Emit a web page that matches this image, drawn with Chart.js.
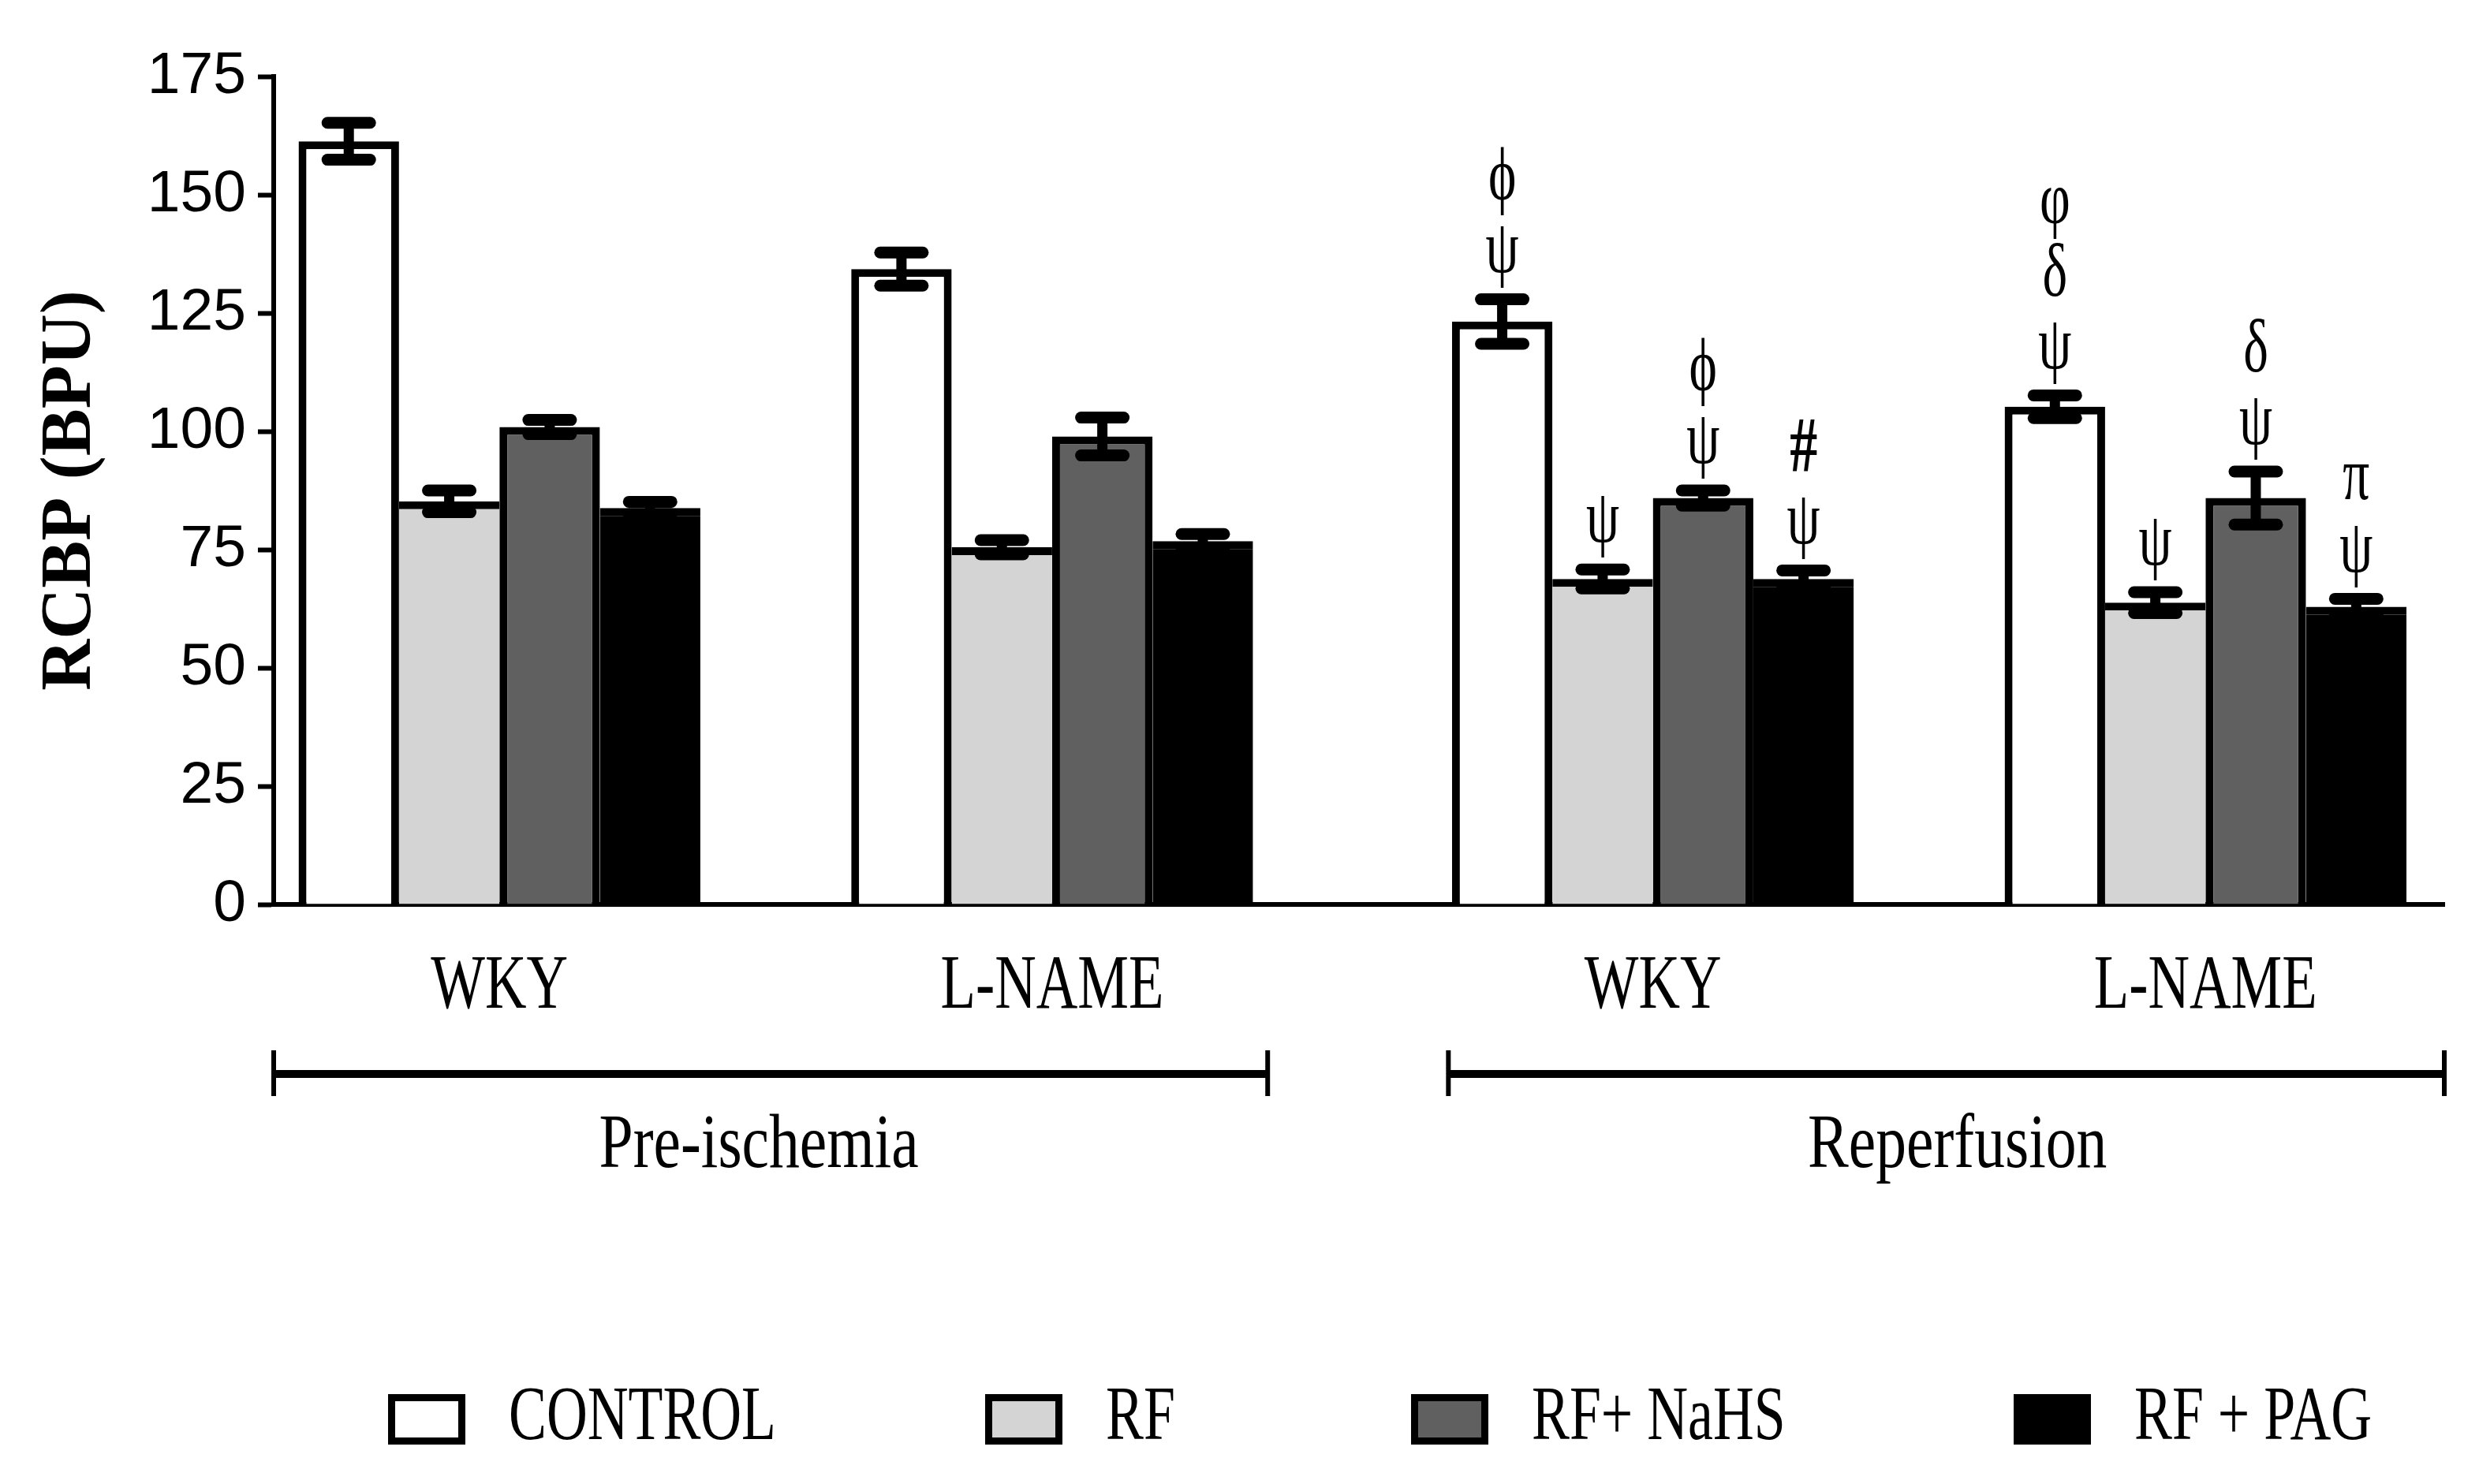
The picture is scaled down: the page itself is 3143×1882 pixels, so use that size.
<!DOCTYPE html>
<html>
<head>
<meta charset="utf-8">
<script src="https://cdn.jsdelivr.net/npm/chart.js@4.4.1/dist/chart.umd.min.js"></script>
<style>
  html, body { margin: 0; padding: 0; background: #fff; }
  #wrap { width: 3143px; height: 1882px; position: relative; }
</style>
</head>
<body>
<div id="wrap"><canvas id="rcbpChart"></canvas></div>
<script>
// data
const groups = ['WKY', 'L-NAME', 'WKY', 'L-NAME'];
const groupSession = [0, 0, 1, 1];
const sessionNames = ['Pre-ischemia', 'Reperfusion'];
const seriesNames = ['CONTROL', 'RF', 'RF+ NaHS', 'RF + PAG'];
const yTicks = [0, 25, 50, 75, 100, 125, 150, 175];

const controlMean = [161.3, 134.3, 123.2, 105.2];
const controlSem = [3.9, 3.5, 4.7, 2.4];
const rfMean = [85.2, 75.5, 68.8, 63.8];
const rfSem = [2.3, 1.5, 2.0, 2.2];
const nahsMean = [100.9, 98.9, 85.9, 85.9];
const nahsSem = [1.5, 4.0, 1.6, 5.6];
const pagMean = [83.8, 76.8, 68.8, 62.9];
const pagSem = [1.3, 1.5, 1.8, 1.7];

// significance marks, listed from bottom to top
const controlSig = [[], [], ['ψ', 'ϕ'], ['ψ', 'δ', 'φ']];
const rfSig = [[], [], ['ψ'], ['ψ']];
const nahsSig = [[], [], ['ψ', 'ϕ'], ['ψ', 'δ']];
const pagSig = [[], [], ['ψ', '#'], ['ψ', 'π']];

const fills = ['#ffffff', '#d4d4d4', '#606060', '#000000'];

// layout
const sessionGap = 0.087;
const positions = groups.map((g, i) => i + groupSession[i] * sessionGap);
const sessionLabelShift = [-15, 14];
const legendBoxX = [492, 1249, 1789, 2553];
const outlineFull = { top: 10, left: 10, right: 10, bottom: 0 };
const outlineTop = { top: 10, left: 0, right: 0, bottom: 0 };
const serif = (size, weight) => (weight ? weight + ' ' : '') + size + 'px "Liberation Serif", "Times New Roman", serif';

function condText(ctx, str, x, y, font, sx) {
  ctx.save();
  ctx.font = font;
  ctx.textAlign = 'center';
  ctx.textBaseline = 'middle';
  ctx.translate(x, y);
  ctx.scale(sx, 1);
  ctx.fillText(str, 0, 0);
  ctx.restore();
}

function makeSet(label, means, sems, sig, fill, outline) {
  return {
    label: label,
    data: means.map((v, i) => ({ x: positions[i], y: v })),
    sem: sems,
    sig: sig,
    backgroundColor: fill,
    borderColor: '#000',
    borderWidth: outline
  };
}

const errorBars = {
  id: 'errorBars',
  afterDatasetsDraw(chart) {
    const ctx = chart.ctx;
    const y = chart.scales.y;
    ctx.save();
    ctx.strokeStyle = '#000';
    ctx.fillStyle = '#000';
    chart.data.datasets.forEach((ds, di) => {
      chart.getDatasetMeta(di).data.forEach((bar, i) => {
        const v = ds.data[i].y, e = ds.sem[i];
        const top = y.getPixelForValue(v + e);
        const bot = y.getPixelForValue(v - e);
        ctx.lineCap = 'butt';
        ctx.lineWidth = 13;
        ctx.beginPath(); ctx.moveTo(bar.x, top); ctx.lineTo(bar.x, bot); ctx.stroke();
        ctx.lineCap = 'round';
        ctx.lineWidth = 15;
        [top, bot].forEach(py => {
          ctx.beginPath(); ctx.moveTo(bar.x - 27, py); ctx.lineTo(bar.x + 27, py); ctx.stroke();
        });
        ds.sig[i].forEach((s, k) => {
          const f = s === '#' ? serif(100, 'bold') : serif(96);
          condText(ctx, s, bar.x, top - 60 - k * 92, f, 0.7);
        });
      });
    });
    ctx.restore();
  },
  afterDraw(chart) {
    const ctx = chart.ctx;
    const x = chart.scales.x;
    const area = chart.chartArea;
    ctx.save();
    ctx.fillStyle = '#000';
    ctx.strokeStyle = '#000';
    // group labels under the axis
    groups.forEach((g, i) => condText(ctx, g, x.getPixelForValue(positions[i]), 1253, serif(97), 0.75));
    // session brackets
    const spans = [
      [area.left, x.getPixelForValue(positions[1] + 0.39)],
      [x.getPixelForValue(positions[2] - 0.37), area.right]
    ];
    spans.forEach((sp, k) => {
      ctx.lineWidth = 10;
      ctx.lineCap = 'butt';
      ctx.beginPath(); ctx.moveTo(sp[0], 1362); ctx.lineTo(sp[1], 1362); ctx.stroke();
      ctx.lineWidth = 6;
      sp.forEach(px => { ctx.beginPath(); ctx.moveTo(px, 1332); ctx.lineTo(px, 1390); ctx.stroke(); });
      condText(ctx, sessionNames[k], (sp[0] + sp[1]) / 2 + sessionLabelShift[k], 1455, serif(97), 0.8);
    });
    // legend
    chart.data.datasets.forEach((ds, i) => {
      const bx = legendBoxX[i];
      ctx.fillStyle = '#000';
      ctx.fillRect(bx, 1768, 98, 64);
      ctx.fillStyle = ds.backgroundColor;
      ctx.fillRect(bx + 9, 1777, 80, 46);
      ctx.fillStyle = '#000';
      ctx.save();
      ctx.font = serif(97);
      ctx.textAlign = 'left';
      ctx.textBaseline = 'middle';
      ctx.translate(bx + 153, 1800);
      ctx.scale(0.74, 1);
      ctx.fillText(seriesNames[i], 0, 0);
      ctx.restore();
    });
    ctx.restore();
  }
};

new Chart(document.getElementById('rcbpChart').getContext('2d'), {
  type: 'bar',
  data: {
    datasets: [
      makeSet(seriesNames[0], controlMean, controlSem, controlSig, fills[0], outlineFull),
      makeSet(seriesNames[1], rfMean, rfSem, rfSig, fills[1], outlineTop),
      makeSet(seriesNames[2], nahsMean, nahsSem, nahsSig, fills[2], outlineFull),
      makeSet(seriesNames[3], pagMean, pagSem, pagSig, fills[3], outlineTop)
    ]
  },
  options: {
    responsive: true,
    maintainAspectRatio: false,
    animation: false,
    layout: { padding: { top: 97, right: 44, left: 0, bottom: 0 } },
    datasets: { bar: { categoryPercentage: 0.727, barPercentage: 1 } },
    plugins: { legend: { display: false }, tooltip: { enabled: false } },
    scales: {
      x: {
        type: 'linear',
        min: -0.4085,
        max: 3.519,
        offset: false,
        afterBuildTicks: s => { s.ticks = positions.map(v => ({ value: v })); },
        grid: { display: false },
        ticks: { display: false },
        border: { color: '#000', width: 6 },
        afterFit: s => { s.height = 735; }
      },
      y: {
        min: 0,
        max: 175,
        afterBuildTicks: s => { s.ticks = yTicks.map(v => ({ value: v })); },
        ticks: {
          color: '#000',
          padding: 15,
          font: { family: '"Liberation Sans Narrow", "Arial Narrow", "Liberation Sans", sans-serif', size: 75 }
        },
        grid: { drawOnChartArea: false, tickLength: 20, tickWidth: 6, color: '#000' },
        border: { color: '#000', width: 6 },
        title: {
          display: true,
          text: 'RCBP (BPU)',
          color: '#000',
          font: { family: '"Liberation Serif", "Times New Roman", serif', size: 90, weight: 'bold' },
          padding: { top: 37, bottom: 0 }
        },
        afterFit: s => { s.width = 347; }
      }
    }
  },
  plugins: [errorBars]
});
</script>
</body>
</html>
